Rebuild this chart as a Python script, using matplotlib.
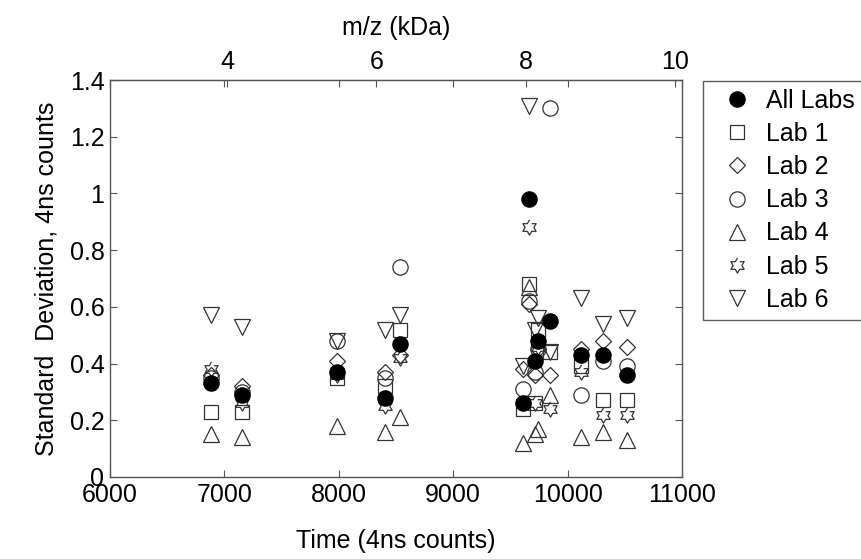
import numpy as np
import matplotlib
matplotlib.use('Agg')
import matplotlib.pyplot as plt

plt.rcParams['font.family'] = ['Liberation Sans', 'DejaVu Sans']
plt.rcParams['font.size'] = 18

# peak times (4ns counts) and std devs per lab
times = [6880, 7150, 7980, 8400, 8535, 9610, 9660, 9715, 9740, 9850, 10120, 10310, 10520]
all_labs = [0.33, 0.29, 0.37, 0.28, 0.47, 0.26, 0.98, 0.41, 0.48, 0.55, 0.43, 0.43, 0.36]
lab1 = [0.23, 0.23, 0.35, 0.32, 0.52, 0.24, 0.68, 0.26, 0.52, 0.44, 0.39, 0.27, 0.27]
lab2 = [0.36, 0.32, 0.41, 0.37, 0.43, 0.38, 0.61, 0.36, 0.45, 0.36, 0.45, 0.48, 0.46]
lab3 = [0.35, 0.30, 0.48, 0.35, 0.74, 0.31, 0.62, 0.37, 0.45, 1.30, 0.29, 0.41, 0.39]
lab4 = [0.15, 0.14, 0.18, 0.16, 0.21, 0.12, 0.67, 0.15, 0.17, 0.29, 0.14, 0.16, 0.13]
lab5 = [0.38, 0.26, 0.36, 0.25, 0.42, 0.26, 0.88, 0.26, 0.46, 0.24, 0.37, 0.22, 0.22]
lab6 = [0.57, 0.53, 0.48, 0.52, 0.57, 0.39, 1.31, 0.52, 0.56, 0.44, 0.63, 0.54, 0.56]

labels = ['All Labs', 'Lab 1', 'Lab 2', 'Lab 3', 'Lab 4', 'Lab 5', 'Lab 6']
mz_ticks = [4, 6, 8, 10]

# six-pointed star marker (MATLAB hexagram)
ang = np.deg2rad(90 + 30 * np.arange(12))
rad = np.where(np.arange(12) % 2 == 0, 1.0, 0.577)
hexagram = list(zip(rad * np.cos(ang), rad * np.sin(ang)))

edge = '#333333'
styles = [
    dict(marker='o', ms=11, mfc='black', mec='black', zorder=5),
    dict(marker='s', ms=9.5, mfc='none', mec=edge, zorder=3),
    dict(marker='D', ms=8, mfc='none', mec=edge, zorder=3),
    dict(marker='o', ms=11, mfc='none', mec=edge, zorder=3),
    dict(marker='^', ms=11.5, mfc='none', mec=edge, zorder=3),
    dict(marker=hexagram, ms=11, mfc='none', mec=edge, zorder=3),
    dict(marker='v', ms=11.5, mfc='none', mec=edge, zorder=3),
]
series = [all_labs, lab1, lab2, lab3, lab4, lab5, lab6]

fig = plt.figure(figsize=(8.61, 5.59), dpi=100)
ax = fig.add_axes([110 / 861, 1 - 477 / 559, 572 / 861, 397 / 559])

for vals, lab, st in zip(series, labels, styles):
    ax.plot(times, vals, linestyle='none', mew=0.9, label=lab, **st)

ax.set_xlim(6000, 11000)
ax.set_ylim(0, 1.4)
ax.set_xticks(np.arange(6000, 11001, 1000))
ax.set_yticks(np.arange(0, 1.41, 0.2))
ax.set_yticklabels(['0', '0.2', '0.4', '0.6', '0.8', '1', '1.2', '1.4'])
ax.tick_params(direction='in', top=True, right=True, length=5, color='#555555', pad=4)
for s in ax.spines.values():
    s.set_color('#555555')
    s.set_linewidth(1.0)

ax.set_xlabel('Time (4ns counts)', labelpad=16)
ax.set_ylabel('Standard  Deviation, 4ns counts', labelpad=8)

secax = ax.secondary_xaxis('top', functions=(lambda t: (t - 4415) / 652.25,
                                              lambda m: m * 652.25 + 4415))
secax.set_xticks(mz_ticks)
secax.set_xticklabels([str(m) for m in mz_ticks])
secax.tick_params(direction='in', length=5, color='#555555', pad=4)
secax.spines['top'].set_color('#555555')
secax.set_xlabel('m/z (kDa)', labelpad=11)

leg = fig.legend(loc='upper left', bbox_to_anchor=(703 / 861, 1 - 81 / 559),
                 frameon=True, fancybox=False, borderaxespad=0,
                 handlelength=2.1, handletextpad=0.1, labelspacing=0.37,
                 borderpad=0.3)
leg.get_frame().set_edgecolor('#333333')
leg.get_frame().set_linewidth(1.0)

fig.savefig('out.png', dpi=100)
